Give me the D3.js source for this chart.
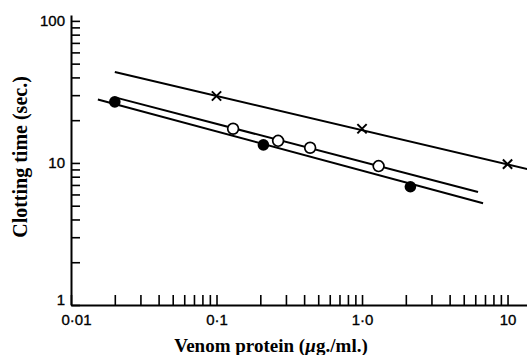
<!DOCTYPE html>
<html>
<head>
<meta charset="utf-8">
<script src="https://cdn.jsdelivr.net/npm/d3@7"></script>
<style>
  html, body { margin: 0; padding: 0; background: #fff; }
  svg { display: block; }
</style>
</head>
<body>
<svg id="chart" width="527" height="355"></svg>
<script>
// Clotting time against venom protein concentration (log-log)
const xTickValues = [0.01, 0.1, 1, 10];
const xTickLabels = ["0·01", "0·1", "1·0", "10"];
const yTickValues = [1, 10, 100];
const yTickLabels = ["1", "10", "100"];

// Series: crosses, open circles, filled circles
const crossConc = [0.1, 1.0, 10];
const crossTime = [29.6, 17.4, 9.8];
const openConc = [0.13, 0.265, 0.44, 1.3];
const openTime = [17.4, 14.3, 12.8, 9.5];
const filledConc = [0.02, 0.21, 2.15];
const filledTime = [26.9, 13.4, 6.8];

// Fitted lines, given by their end points
const crossFitConc = [0.02, 14];
const crossFitTime = [43.7, 9.0];
const openFitConc = [0.0207, 6.27];
const openFitTime = [28.7, 6.25];
const filledFitConc = [0.0153, 6.79];
const filledFitTime = [28.0, 5.2];

const svg = d3.select("#chart");
const x = d3.scaleLog().domain([0.01, 14]).range([71, 528.8]);
const y = d3.scaleLog().domain([1, 110]).range([305, 15]);

const labelFont = "'Liberation Sans', Arial, sans-serif";
const titleFont = "'Liberation Serif', 'Times New Roman', serif";

// X axis: minor ticks inside the plot, labels only on decades
const xLabel = new Map(xTickValues.map((v, i) => [v, xTickLabels[i]]));
const xAxis = d3.axisBottom(x)
  .tickValues(x.ticks())
  .tickSize(-10)
  .tickSizeOuter(0)
  .tickPadding(9)
  .tickFormat(d => xLabel.has(d) ? xLabel.get(d) : "");
const gx = svg.append("g").attr("transform", "translate(0,305)").call(xAxis);

// Y axis: ticks pointing right, labels on the left
const yLabel = new Map(yTickValues.map((v, i) => [v, yTickLabels[i]]));
const yAxis = d3.axisLeft(y)
  .tickValues(y.ticks())
  .tickSize(-9)
  .tickSizeOuter(0)
  .tickPadding(6)
  .tickFormat(d => yLabel.has(d) ? yLabel.get(d) : "");
const gy = svg.append("g").attr("transform", "translate(71,0)").call(yAxis);

[gx, gy].forEach(g => {
  g.select(".domain").attr("stroke", "#000").attr("stroke-width", 2);
  g.selectAll(".tick line").attr("stroke", "#000").attr("stroke-width", 1.6);
  g.selectAll(".tick text")
    .attr("fill", "#000")
    .attr("stroke", "#000")
    .attr("stroke-width", 0.35)
    .style("font-family", labelFont)
    .style("font-size", "15px");
});
// keep the two corner labels clear of each other
gx.selectAll(".tick text").filter(d => d === 0.01).attr("dx", 5);
gy.selectAll(".tick text").filter(d => d === 1).attr("dy", "-0.05em");

// Fitted lines
const line = d3.line().x(d => x(d[0])).y(d => y(d[1]));
const fits = [
  d3.zip(crossFitConc, crossFitTime),
  d3.zip(openFitConc, openFitTime),
  d3.zip(filledFitConc, filledFitTime)
];
svg.append("g").selectAll("path").data(fits).join("path")
  .attr("d", line)
  .attr("fill", "none")
  .attr("stroke", "#000")
  .attr("stroke-width", 2);

// Crosses
svg.append("g").selectAll("path").data(d3.zip(crossConc, crossTime)).join("path")
  .attr("transform", d => `translate(${x(d[0])},${y(d[1])})`)
  .attr("d", d3.symbol(d3.symbolX, 58))
  .attr("fill", "none")
  .attr("stroke", "#000")
  .attr("stroke-width", 2);

// Open circles
svg.append("g").selectAll("circle").data(d3.zip(openConc, openTime)).join("circle")
  .attr("cx", d => x(d[0]))
  .attr("cy", d => y(d[1]))
  .attr("r", 5.4)
  .attr("fill", "#fff")
  .attr("stroke", "#000")
  .attr("stroke-width", 1.7);

// Filled circles
svg.append("g").selectAll("circle").data(d3.zip(filledConc, filledTime)).join("circle")
  .attr("cx", d => x(d[0]))
  .attr("cy", d => y(d[1]))
  .attr("r", 5.8)
  .attr("fill", "#000");

// Axis titles
const xTitle = svg.append("text")
  .attr("x", 271)
  .attr("y", 352)
  .attr("text-anchor", "middle")
  .style("font-family", titleFont)
  .style("font-weight", "bold")
  .style("font-size", "19px");
xTitle.append("tspan").text("Venom protein (");
xTitle.append("tspan").style("font-style", "italic").text("µ");
xTitle.append("tspan").text("g./ml.)");

svg.append("text")
  .attr("transform", "translate(27,157) rotate(-90)")
  .attr("text-anchor", "middle")
  .style("font-family", titleFont)
  .style("font-weight", "bold")
  .style("font-size", "20px")
  .text("Clotting time (sec.)");
</script>
</body>
</html>
